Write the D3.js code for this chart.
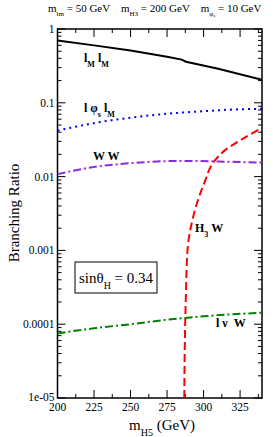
<!DOCTYPE html>
<html>
<head>
<meta charset="UTF-8" />
<script src="https://d3js.org/d3.v7.min.js"></script>
<style>
  body { margin: 0; background: #fff; }
  svg { font-family: "Liberation Serif", "Times New Roman", serif; }
  text { white-space: pre; }
</style>
</head>
<body>
<svg width="273" height="437"></svg>
<script>
// data (mass in GeV, branching ratio)
const lmlm = [[200, 0.70], [225, 0.60], [250, 0.51], [275, 0.42], [285, 0.385], [288, 0.36], [310, 0.29], [340, 0.205]];
const lphilm = [[200, 0.042], [225, 0.053], [250, 0.063], [275, 0.071], [300, 0.077], [320, 0.081], [340, 0.083]];
const ww = [[200, 0.0108], [225, 0.0135], [250, 0.0152], [275, 0.0162], [290, 0.0163], [310, 0.016], [340, 0.0155]];
const h3w = [[286.8, 1e-5], [287.0, 3e-5], [287.4, 1e-4], [287.9, 2.5e-4], [289, 1e-3], [293, 2.9e-3], [300.4, 8.1e-3], [308, 0.0168], [315, 0.023], [325, 0.031], [340, 0.046]];
const lnuw = [[200, 7.5e-5], [225, 8.8e-5], [250, 1.0e-4], [275, 1.15e-4], [300, 1.28e-4], [340, 1.43e-4]];
const xTicks = [200, 225, 250, 275, 300, 325];
const yTicks = [1, 0.1, 0.01, 0.001, 0.0001, 1e-5];
const yTickLabels = ["1", "0.1", "0.01", "0.001", "0.0001", "1e-05"];

const svg = d3.select("svg");
const pL = 57.5, pR = 262, pT = 29, pB = 398;

const x = d3.scaleLinear().domain([200, 340]).range([pL, pR]);
const y = d3.scaleLog().domain([1e-5, 1]).range([pB, pT]);

svg.append("clipPath").attr("id", "clip")
  .append("rect").attr("x", pL).attr("y", pT).attr("width", pR - pL).attr("height", pB - pT);

// minor ticks
const xMinor = d3.range(212.5, 340, 25);
const yMinor = [];
for (let e = -5; e < 0; e++) for (let k = 2; k <= 9; k++) yMinor.push(k * Math.pow(10, e));

const frame = svg.append("g");
xTicks.forEach(t => {
  frame.append("line").attr("x1", x(t)).attr("x2", x(t)).attr("y1", pB).attr("y2", pB - 8).attr("stroke", "#000");
  frame.append("line").attr("x1", x(t)).attr("x2", x(t)).attr("y1", pT).attr("y2", pT + 8).attr("stroke", "#000");
  frame.append("text").attr("x", x(t)).attr("y", pB + 13).attr("text-anchor", "middle")
    .attr("font-size", 11.5).text(t);
});
xMinor.forEach(t => {
  frame.append("line").attr("x1", x(t)).attr("x2", x(t)).attr("y1", pB).attr("y2", pB - 4).attr("stroke", "#000");
  frame.append("line").attr("x1", x(t)).attr("x2", x(t)).attr("y1", pT).attr("y2", pT + 4).attr("stroke", "#000");
});
yTicks.forEach((t, i) => {
  frame.append("line").attr("x1", pL).attr("x2", pL + 8).attr("y1", y(t)).attr("y2", y(t)).attr("stroke", "#000");
  frame.append("line").attr("x1", pR).attr("x2", pR - 8).attr("y1", y(t)).attr("y2", y(t)).attr("stroke", "#000");
  frame.append("text").attr("x", pL - 3).attr("y", y(t) + (i === yTicks.length - 1 ? 3 : 4)).attr("text-anchor", "end")
    .attr("font-size", 11.5).text(yTickLabels[i]);
});
yMinor.forEach(t => {
  frame.append("line").attr("x1", pL).attr("x2", pL + 4).attr("y1", y(t)).attr("y2", y(t)).attr("stroke", "#000");
  frame.append("line").attr("x1", pR).attr("x2", pR - 4).attr("y1", y(t)).attr("y2", y(t)).attr("stroke", "#000");
});

// curves
const line = d3.line().x(d => x(d[0])).y(d => y(d[1])).curve(d3.curveMonotoneX);
const curves = svg.append("g").attr("clip-path", "url(#clip)").attr("fill", "none").attr("stroke-width", 2);
curves.append("path").datum(lmlm).attr("d", d3.line().x(d => x(d[0])).y(d => y(d[1]))).attr("stroke", "#000");
curves.append("path").datum(lphilm).attr("d", line).attr("stroke", "#0000ff").attr("stroke-dasharray", "2,4");
curves.append("path").datum(ww).attr("d", line).attr("stroke", "#8a2be2").attr("stroke-dasharray", "8,3,2,3");
curves.append("path").datum(h3w).attr("d", d3.line().x(d => x(d[0])).y(d => y(d[1])).curve(d3.curveMonotoneY)).attr("stroke", "#ff0000").attr("stroke-dasharray", "8,4");
curves.append("path").datum(lnuw).attr("d", line).attr("stroke", "#008000").attr("stroke-dasharray", "8,3,2,3");

frame.append("rect").attr("x", pL).attr("y", pT).attr("width", pR - pL).attr("height", pB - pT)
  .attr("fill", "none").attr("stroke", "#000").attr("stroke-width", 1.5);

// curve labels
const lab = svg.append("g").attr("font-weight", "bold").attr("font-size", 12);
function label(xp, yp, parts) {
  const t = lab.append("text").attr("x", xp).attr("y", yp);
  parts.forEach(p => {
    const s = t.append("tspan").text(p[0]);
    if (p[1]) s.attr("font-size", 8).attr("baseline-shift", "sub");
  });
}
label(84, 62, [["l"], ["M", 1], [" l"], ["M", 1]]);
label(84, 112, [["l φ"], ["s", 1], [" l"], ["M", 1]]);
label(93, 160, [["W W"]]);
label(195, 232, [["H"], ["3", 1], [" W"]]);
label(216, 327, [["l ν  W"]]);

// sin theta box
svg.append("rect").attr("x", 75).attr("y", 262).attr("width", 82).attr("height", 31)
  .attr("fill", "#fff").attr("stroke", "#000").attr("stroke-width", 1);
const st = svg.append("text").attr("x", 116).attr("y", 283).attr("text-anchor", "middle").attr("font-size", 15);
st.append("tspan").text("sinθ");
st.append("tspan").attr("font-size", 10).attr("baseline-shift", "sub").text("H");
st.append("tspan").attr("baseline-shift", "0").text(" = 0.34");

// title
const title = svg.append("text").attr("x", 48).attr("y", 12).attr("font-size", 11);
[["m"], ["lm", 1], [" = 50 GeV    m"], ["H3", 1], [" = 200 GeV    m"], ["φ", 1], ["s", 2], [" = 10 GeV"]].forEach(p => {
  const s = title.append("tspan").text(p[0]);
  if (p[1] === 1) s.attr("font-size", 7).attr("baseline-shift", "sub");
  if (p[1] === 2) s.attr("font-size", 5).attr("baseline-shift", "-5");
});

// axis titles
const xt = svg.append("text").attr("x", 162).attr("y", 430).attr("text-anchor", "middle").attr("font-size", 15);
xt.append("tspan").text("m");
xt.append("tspan").attr("font-size", 10).attr("baseline-shift", "sub").text("H5");
xt.append("tspan").text(" (GeV)");

svg.append("text").attr("transform", "translate(19,213) rotate(-90)").attr("text-anchor", "middle")
  .attr("font-size", 15).text("Branching Ratio");
</script>
</body>
</html>
